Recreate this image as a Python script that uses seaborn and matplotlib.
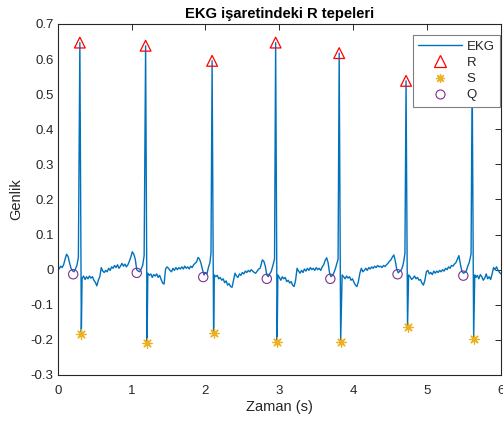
import numpy as np
import pandas as pd
import seaborn as sns
import matplotlib.pyplot as plt
from matplotlib.lines import Line2D

# EKG sinyali, zaman (s) ve genlik
ekg_t = [
    0.00, 0.02, 0.04, 0.06, 0.08, 0.10, 0.12, 0.14, 0.16, 0.18, 0.20, 0.22, 0.24, 0.26, 0.28, 0.30, 0.32,
    0.33, 0.35, 0.37, 0.39, 0.41, 0.43, 0.45, 0.47, 0.49, 0.51, 0.53, 0.55, 0.57, 0.59, 0.61, 0.63, 0.65,
    0.67, 0.69, 0.71, 0.73, 0.75, 0.77, 0.79, 0.81, 0.83, 0.85, 0.87, 0.89, 0.91, 0.93, 0.95, 0.97, 0.99,
    1.01, 1.03, 1.05, 1.07, 1.09, 1.11, 1.13, 1.15, 1.17, 1.19, 1.21,
    1.22, 1.24, 1.26, 1.28, 1.30, 1.32, 1.34, 1.36, 1.38, 1.40, 1.42, 1.44, 1.46, 1.48, 1.50, 1.52, 1.54,
    1.56, 1.58, 1.60, 1.62, 1.64, 1.66, 1.68, 1.70, 1.72, 1.74, 1.76, 1.78, 1.80, 1.82, 1.84, 1.86, 1.88,
    1.90, 1.92, 1.94, 1.96, 1.98, 2.00, 2.02, 2.04, 2.06, 2.075, 2.09, 2.11,
    2.12, 2.14, 2.16, 2.18, 2.20, 2.22, 2.24, 2.26, 2.28, 2.30, 2.32, 2.34, 2.36, 2.38, 2.40, 2.42, 2.44,
    2.46, 2.48, 2.50, 2.52, 2.54, 2.56, 2.58, 2.60, 2.62, 2.64, 2.66, 2.68, 2.70, 2.72, 2.74, 2.76, 2.77,
    2.79, 2.81, 2.83, 2.85, 2.87, 2.89, 2.91, 2.935, 2.95, 2.97,
    2.98, 3.00, 3.02, 3.04, 3.06, 3.08, 3.10, 3.12, 3.14, 3.16, 3.18, 3.20, 3.22, 3.24, 3.26, 3.28, 3.30,
    3.32, 3.34, 3.36, 3.38, 3.40, 3.42, 3.44, 3.46, 3.48, 3.50, 3.52, 3.54, 3.56, 3.58, 3.60, 3.62, 3.64,
    3.66, 3.68, 3.70, 3.72, 3.74, 3.76, 3.795, 3.81, 3.83,
    3.85, 3.87, 3.89, 3.91, 3.93, 3.95, 3.97, 3.99, 4.01, 4.03, 4.05, 4.07, 4.09, 4.11, 4.13, 4.15, 4.17,
    4.19, 4.21, 4.23, 4.25, 4.27, 4.29, 4.31, 4.33, 4.35, 4.37, 4.39, 4.41, 4.43, 4.45, 4.47, 4.49, 4.51,
    4.53, 4.55, 4.57, 4.59, 4.61, 4.63, 4.65, 4.67, 4.685, 4.70, 4.715, 4.735,
    4.75, 4.77, 4.79, 4.81, 4.83, 4.85, 4.87, 4.89, 4.91, 4.93, 4.95, 4.97, 4.99, 5.01, 5.03, 5.05, 5.07,
    5.09, 5.11, 5.13, 5.15, 5.17, 5.19, 5.21, 5.23, 5.25, 5.27, 5.29, 5.31, 5.33, 5.35, 5.37, 5.39, 5.41,
    5.43, 5.45, 5.47, 5.49, 5.51, 5.53, 5.55, 5.57, 5.595, 5.61, 5.63,
    5.645, 5.66, 5.68, 5.70, 5.72, 5.74, 5.76, 5.78, 5.80, 5.82, 5.84, 5.86, 5.88, 5.90, 5.92, 5.94, 5.96,
    5.98, 6.00,
]
ekg_v = [
    0.009, 0.002, 0.010, 0.006, 0.014, 0.030, 0.044, 0.038, 0.020, 0.004, -0.003, -0.006, 0.002, 0.012, 0.035, 0.647, -0.183,
    -0.025, -0.018, -0.028, -0.020, -0.026, -0.018, -0.024, -0.020, -0.030, -0.036, -0.046, -0.030, -0.020, 0.006, -0.004, -0.008, -0.002,
    -0.006, 0.004, -0.002, 0.008, 0.004, 0.012, 0.006, 0.014, 0.004, 0.010, 0.018, 0.010, 0.016, 0.008, 0.014, 0.024, 0.036,
    0.051, 0.044, 0.030, 0.000, -0.004, -0.006, 0.002, 0.012, 0.040, 0.638, -0.210,
    -0.010, -0.016, -0.012, -0.022, -0.014, -0.018, -0.012, -0.022, -0.016, -0.028, -0.038, -0.041, 0.002, 0.008, 0.004, -0.002, -0.006,
    0.004, -0.002, 0.006, 0.000, 0.006, 0.002, 0.008, 0.002, 0.010, 0.004, 0.008, 0.002, 0.010, 0.006, 0.014, 0.018, 0.022,
    0.035, 0.030, 0.018, 0.000, -0.015, -0.008, -0.012, 0.006, 0.020, 0.047, 0.595, -0.180,
    -0.015, -0.020, -0.016, -0.026, -0.022, -0.030, -0.026, -0.037, -0.032, -0.044, -0.040, -0.048, -0.050, -0.030, -0.010, -0.018, -0.022,
    -0.012, -0.016, -0.008, -0.012, -0.004, -0.008, -0.002, -0.006, 0.000, -0.004, -0.008, -0.010, -0.004, 0.002, 0.004, 0.020, 0.028,
    0.024, 0.010, -0.015, -0.020, -0.012, -0.005, 0.010, 0.030, 0.647, -0.205,
    -0.015, -0.022, -0.030, -0.020, -0.026, -0.022, -0.034, -0.030, -0.038, -0.034, -0.044, -0.048, -0.030, 0.004, -0.004, -0.010, -0.002,
    -0.008, 0.002, -0.004, 0.004, -0.002, 0.006, 0.000, 0.004, -0.002, 0.006, 0.000, 0.004, -0.002, 0.008, 0.014, 0.026, 0.034,
    0.020, -0.010, -0.020, -0.016, -0.008, 0.004, 0.030, 0.617, -0.205,
    -0.015, -0.020, -0.026, -0.018, -0.024, -0.020, -0.030, -0.026, -0.036, -0.044, -0.048, -0.034, -0.010, 0.004, -0.006, -0.002, 0.004,
    -0.002, 0.006, 0.002, 0.008, 0.004, 0.010, 0.006, 0.012, 0.008, 0.010, 0.006, 0.012, 0.009, 0.014, 0.018, 0.024, 0.028,
    0.036, 0.042, 0.024, 0.000, -0.009, -0.004, -0.001, 0.010, 0.025, 0.047, 0.538, -0.163,
    -0.015, -0.020, -0.028, -0.024, -0.018, -0.026, -0.022, -0.030, -0.028, -0.038, -0.044, -0.030, -0.006, -0.002, -0.012, -0.008, -0.014,
    -0.004, -0.010, -0.004, -0.008, -0.002, -0.006, 0.000, -0.004, 0.004, 0.000, 0.008, 0.004, 0.012, 0.010, 0.016, 0.020, 0.030,
    0.040, 0.016, -0.004, -0.010, -0.008, -0.004, 0.010, 0.020, 0.045, 0.560, -0.198,
    -0.015, -0.022, -0.016, -0.026, -0.014, -0.020, -0.030, -0.024, -0.012, -0.026, -0.020, -0.028, -0.012, 0.006, 0.000, 0.008, -0.002,
    -0.008, -0.012,
]

# R, S ve Q noktalari
r_t = [0.30, 1.19, 2.09, 2.95, 3.81, 4.715, 5.61]
r_v = [0.647, 0.638, 0.595, 0.647, 0.617, 0.538, 0.560]
s_t = [0.32, 1.21, 2.11, 2.97, 3.83, 4.735, 5.63]
s_v = [-0.183, -0.210, -0.180, -0.205, -0.205, -0.163, -0.198]
q_t = [0.21, 1.07, 1.97, 2.83, 3.69, 4.60, 5.49]
q_v = [-0.013, -0.009, -0.021, -0.026, -0.026, -0.013, -0.017]

y_ticks = [-0.3, -0.2, -0.1, 0, 0.1, 0.2, 0.3, 0.4, 0.5, 0.6, 0.7]
y_tick_labels = ['-0.3', '-0.2', '-0.1', '0', '0.1', '0.2', '0.3', '0.4', '0.5', '0.6', '0.7']
x_ticks = [0, 1, 2, 3, 4, 5, 6]

sns.set_style('white')
plt.rcParams['font.family'] = ['Liberation Sans', 'DejaVu Sans']
plt.rcParams['axes.unicode_minus'] = False

c_line = '#0072BD'
c_r = '#FF0000'
c_s = '#EDB120'
c_q = '#7E2F8E'
c_ax = '#262626'

fig = plt.figure(figsize=(5.03, 4.23), dpi=100)
ax = fig.add_axes([0.1147, 0.1135, 0.8813, 0.8298])

df = pd.DataFrame({'t': ekg_t, 'v': ekg_v})
sns.lineplot(data=df, x='t', y='v', ax=ax, color=c_line, linewidth=1.0, zorder=2)
sns.scatterplot(x=r_t, y=r_v, ax=ax, marker='^', s=60, facecolors='none',
                edgecolor=c_r, linewidth=0.9, zorder=3)
sns.scatterplot(x=s_t, y=s_v, ax=ax, marker=(8, 2, 0), s=45, color=c_s,
                edgecolor=c_s, linewidth=0.9, zorder=3)
sns.scatterplot(x=q_t, y=q_v, ax=ax, marker='o', s=45, facecolors='none',
                edgecolor=c_q, linewidth=0.8, zorder=3)

ax.set_xlim(0, 6)
ax.set_ylim(-0.3, 0.7)
ax.set_xticks(x_ticks)
ax.set_xticklabels([str(x) for x in x_ticks])
ax.set_yticks(y_ticks)
ax.set_yticklabels(y_tick_labels)
ax.tick_params(axis='both', direction='in', length=4, width=0.7, colors=c_ax, labelsize=9.5,
               top=True, right=True)
ax.tick_params(axis='x', pad=7.5)
ax.tick_params(axis='y', pad=3)
for sp in ax.spines.values():
    sp.set_color(c_ax)
    sp.set_linewidth(0.8)
    sp.set_visible(True)

ax.set_title('EKG işaretindeki R tepeleri', fontsize=10.6, fontweight='bold', color='black', pad=4)
ax.set_xlabel('Zaman (s)', fontsize=10.5, color=c_ax, labelpad=2)
ax.set_ylabel('Genlik', fontsize=10.5, color=c_ax, labelpad=5)

handles = [
    Line2D([], [], color=c_line, linewidth=1.0),
    Line2D([], [], color=c_r, marker='^', linestyle='none', markersize=8,
           markerfacecolor='none', markeredgewidth=0.9),
    Line2D([], [], color=c_s, marker=(8, 2, 0), linestyle='none', markersize=6.5,
           markeredgewidth=0.9),
    Line2D([], [], color=c_q, marker='o', linestyle='none', markersize=6.5,
           markerfacecolor='none', markeredgewidth=0.8),
]
leg = ax.legend(handles, ['EKG', 'R', 'S', 'Q'], loc='upper right',
                bbox_to_anchor=(0.998, 0.968), fontsize=9.5, frameon=True,
                fancybox=False, framealpha=1, edgecolor='#7f7f7f',
                handlelength=3.35, handletextpad=0.35, labelspacing=0.3,
                borderpad=0.4, borderaxespad=0.0)
leg.get_frame().set_linewidth(0.8)

fig.savefig('out.png', dpi=100, facecolor='white')
